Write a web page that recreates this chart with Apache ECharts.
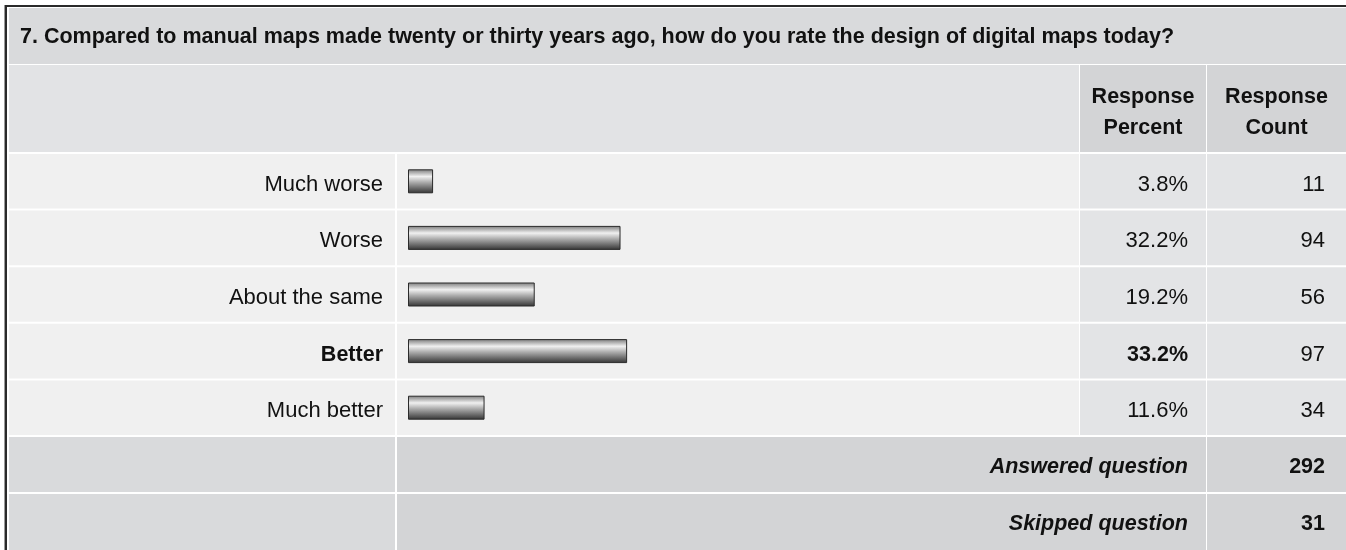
<!DOCTYPE html>
<html><head><meta charset="utf-8">
<script src="https://cdn.jsdelivr.net/npm/echarts@6/dist/echarts.min.js"></script>
<style>html,body{margin:0;padding:0;background:#fff}#c{width:1346px;height:550px}</style>
</head><body><div id="c"></div>
<script>
// ---- data ----
const title = '7. Compared to manual maps made twenty or thirty years ago, how do you rate the design of digital maps today?';
const categories = ['Much worse', 'Worse', 'About the same', 'Better', 'Much better'];
const percents = [3.8, 32.2, 19.2, 33.2, 11.6];
const counts = [11, 94, 56, 97, 34];
const headerPercent = ['Response', 'Percent'];
const headerCount = ['Response', 'Count'];
const footerLabels = ['Answered question', 'Skipped question'];
const footerValues = [292, 31];
const boldCategory = 'Better';

// ---- layout ----
const FONT = '"Liberation Sans", Arial, Helvetica, sans-serif';
const C = {left: 9, labelR: 395, barL: 397, barR: 1079, pctL: 1080, pctR: 1206, cntL: 1207, right: 1346};
const TXT = '#111';
const BODY = 22, BOLD = 21.5;

function font(size, weight, style) {
  return (style || 'normal') + ' ' + (weight || 'normal') + ' ' + size + 'px ' + FONT;
}
function rect(x, y, w, h, fill) {
  return {type: 'rect', shape: {x: x, y: y, width: w, height: h}, style: {fill: fill}, silent: true};
}
function text(x, y, t, align, f) {
  return {type: 'text', x: x, y: y, style: {text: t, align: align, verticalAlign: 'middle', font: f, fill: TXT}, silent: true};
}

function renderRow(params, api) {
  const idx = api.value(1);
  const yc = api.coord([0, idx])[1];
  const bh = api.size([0, 1])[1];
  const top = yc - bh / 2 + 1, h = bh - 2;
  const bold = categories[idx] === boldCategory;
  return {
    type: 'group',
    children: [
      {type: 'rect', shape: {x: C.left, y: top, width: C.labelR - C.left, height: h}, style: {fill: '#f0f0f0'}},
      {type: 'rect', shape: {x: C.barL, y: top, width: C.barR - C.barL, height: h}, style: {fill: '#f0f0f0'}},
      {type: 'rect', shape: {x: C.pctL, y: top, width: C.pctR - C.pctL, height: h}, style: {fill: '#e3e4e6'}},
      {type: 'rect', shape: {x: C.cntL, y: top, width: C.right - C.cntL, height: h}, style: {fill: '#e3e4e6'}},
      {type: 'text', x: 1188, y: yc + 3.5, style: {text: percents[idx].toFixed(1) + '%', align: 'right', verticalAlign: 'middle', font: font(bold ? BOLD : BODY, bold ? 'bold' : 'normal'), fill: TXT}},
      {type: 'text', x: 1325, y: yc + 3.5, style: {text: String(counts[idx]), align: 'right', verticalAlign: 'middle', font: font(BODY), fill: TXT}}
    ]
  };
}

const graphics = [
  // outer border (left & top)
  rect(4, 5, 1, 545, '#9a9a9a'),
  rect(5, 5, 2, 545, '#2a2a2a'),
  rect(5, 5, 1341, 2, '#2a2a2a'),
  // title row
  rect(C.left, 8, C.right - C.left, 56, '#d9dadc'),
  text(20, 37, title, 'left', font(21.5, 'bold')),
  // header row
  rect(C.left, 65, C.barR - C.left, 87, '#e2e3e5'),
  rect(C.pctL, 65, C.pctR - C.pctL, 87, '#d3d4d6'),
  rect(C.cntL, 65, C.right - C.cntL, 87, '#d3d4d6'),
  text((C.pctL + C.pctR) / 2, 97, headerPercent[0], 'center', font(BOLD, 'bold')),
  text((C.pctL + C.pctR) / 2, 128, headerPercent[1], 'center', font(BOLD, 'bold')),
  text((C.cntL + C.right) / 2, 97, headerCount[0], 'center', font(BOLD, 'bold')),
  text((C.cntL + C.right) / 2, 128, headerCount[1], 'center', font(BOLD, 'bold'))
];
const footTops = [437, 494];
footTops.forEach(function (t, i) {
  const h = i === 0 ? 55 : 56;
  graphics.push(rect(C.left, t, C.labelR - C.left, h, '#d9dadc'));
  graphics.push(rect(C.barL, t, C.pctR - C.barL, h, '#d3d4d6'));
  graphics.push(rect(C.cntL, t, C.right - C.cntL, h, '#d3d4d6'));
  graphics.push(text(1188, t + h / 2 + 2.5, footerLabels[i], 'right', font(BOLD, 'bold', 'italic')));
  graphics.push(text(1325, t + h / 2 + 2.5, String(footerValues[i]), 'right', font(BOLD, 'bold')));
});

const chart = echarts.init(document.getElementById('c'), null, {renderer: 'canvas'});
chart.setOption({
  backgroundColor: '#ffffff',
  animation: false,
  graphic: {elements: graphics},
  grid: {left: 408, width: 660, top: 153, height: 283, containLabel: false},
  xAxis: {type: 'value', min: 0, max: 100, show: false},
  yAxis: {
    type: 'category', data: categories, inverse: true,
    axisLine: {show: false}, axisTick: {show: false}, splitLine: {show: false},
    axisLabel: {
      margin: 25, fontSize: BODY, fontFamily: FONT, color: TXT, padding: [7, 0, 0, 0],
      formatter: function (v) { return v === boldCategory ? '{b|' + v + '}' : v; },
      rich: {b: {fontSize: BOLD, fontFamily: FONT, fontWeight: 'bold', color: TXT}}
    },
    z: 5
  },
  series: [
    {
      type: 'custom', renderItem: renderRow, z: 1, silent: true,
      encode: {x: 0, y: 1},
      data: categories.map(function (c, i) { return [0, i]; })
    },
    {
      type: 'bar', data: percents, barWidth: 24, z: 3, silent: true,
      itemStyle: {
        borderColor: '#2b2b2b', borderWidth: 1,
        color: new echarts.graphic.LinearGradient(0, 0, 0, 1, [
          {offset: 0, color: '#7a7a7a'},
          {offset: 0.3, color: '#f0f0f0'},
          {offset: 0.55, color: '#aaaaaa'},
          {offset: 1, color: '#333333'}
        ])
      }
    }
  ]
});
</script>
</body></html>
